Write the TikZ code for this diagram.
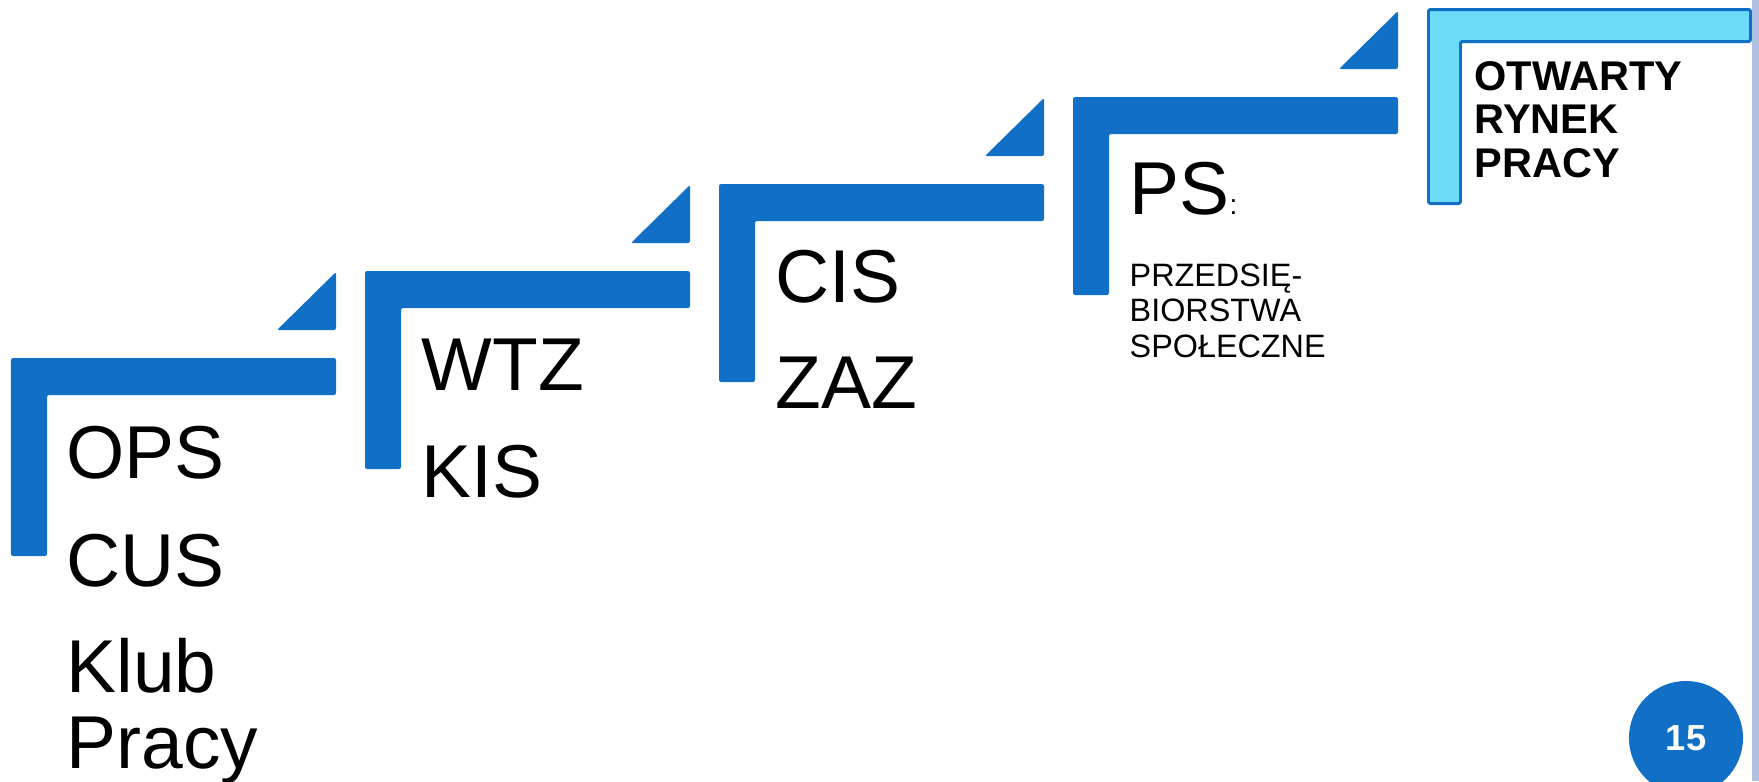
\documentclass[tikz,border=0pt]{standalone}
\usepackage{fontspec}
\setmainfont{Liberation Sans}
\definecolor{stepblue}{RGB}{17,112,198}
\definecolor{stepcyan}{RGB}{107,219,248}
\definecolor{edgegray}{RGB}{176,193,225}

\begin{document}
\begin{tikzpicture}[x=0.01cm,y=-0.01cm,
        stair/.style={fill=stepblue,rounded corners=0.6pt},
        big/.style={anchor=base west,inner sep=0pt,align=left,font=\fontsize{21.3}{21.6}\selectfont},
        small/.style={anchor=base west,inner sep=0pt,align=left,font=\fontsize{9.2}{10}\selectfont},
        bold/.style={anchor=base west,inner sep=0pt,align=left,font=\bfseries\fontsize{11.8}{12.3}\selectfont}]
        \clip (0,0) rectangle (1759,781);
        \fill[white] (0,0) rectangle (1759,781);

        % stairs
        \fill[stair] (11,358) -- ++(325,0) -- ++(0,37) -- ++(-289,0) -- ++(0,161) -- ++(-36,0) -- cycle;
        \fill[stair] (365,271) -- ++(325,0) -- ++(0,37) -- ++(-289,0) -- ++(0,161) -- ++(-36,0) -- cycle;
        \fill[stair] (719,184) -- ++(325,0) -- ++(0,37) -- ++(-289,0) -- ++(0,161) -- ++(-36,0) -- cycle;
        \fill[stair] (1073,97) -- ++(325,0) -- ++(0,37) -- ++(-289,0) -- ++(0,161) -- ++(-36,0) -- cycle;

        % last stair
        \filldraw[fill=stepcyan, draw=stepblue, line width=0.85pt, rounded corners=0.6pt]
            (1428.5,9.5) -- (1750.5,9.5) -- (1750.5,41.5) -- (1460.5,41.5) -- (1460.5,203.5) -- (1428.5,203.5) -- cycle;

        % corner triangles
        \fill[stair] (336,272) -- (336,330) -- (277,330) -- cycle;
        \fill[stair] (690,185) -- (690,243) -- (631,243) -- cycle;
        \fill[stair] (1044,98) -- (1044,156) -- (985,156) -- cycle;
        \fill[stair] (1398,11) -- (1398,69) -- (1339,69) -- cycle;

        % step 1
        \node[big] (ops) at (66,478) {OPS};
        \node[big] (cus) at (66,586) {CUS};
        \node[big] (klub) at (66,768) {Klub\\Pracy};

        % step 2
        \node[big] (wtz) at (421,390) {WTZ};
        \node[big] (kis) at (421,497) {KIS};

        % step 3
        \node[big] (cis) at (775,302) {CIS};
        \node[big] (zaz) at (775,408) {ZAZ};

        % step 4 (multi-line nodes sit on their last line)
        \node[big] (ps) at (1129,214) {PS{\fontsize{8}{8}\selectfont :}};
        \node[small] (przeds) at (1129,357) {PRZEDSIĘ-\\BIORSTWA\\SPOŁECZNE};

        % step 5
        \node[bold] (rynek) at (1474,177) {OTWARTY\\RYNEK\\PRACY};

        % page number
        \fill[edgegray] (1752,0) rectangle (1759,781);
        \node[circle, fill=stepblue, minimum size=1.14cm, inner sep=0pt, text=white,
              font=\bfseries\fontsize{10.3}{10.3}\selectfont] (page) at (1686,738) {15};
    \end{tikzpicture}
\end{document}
